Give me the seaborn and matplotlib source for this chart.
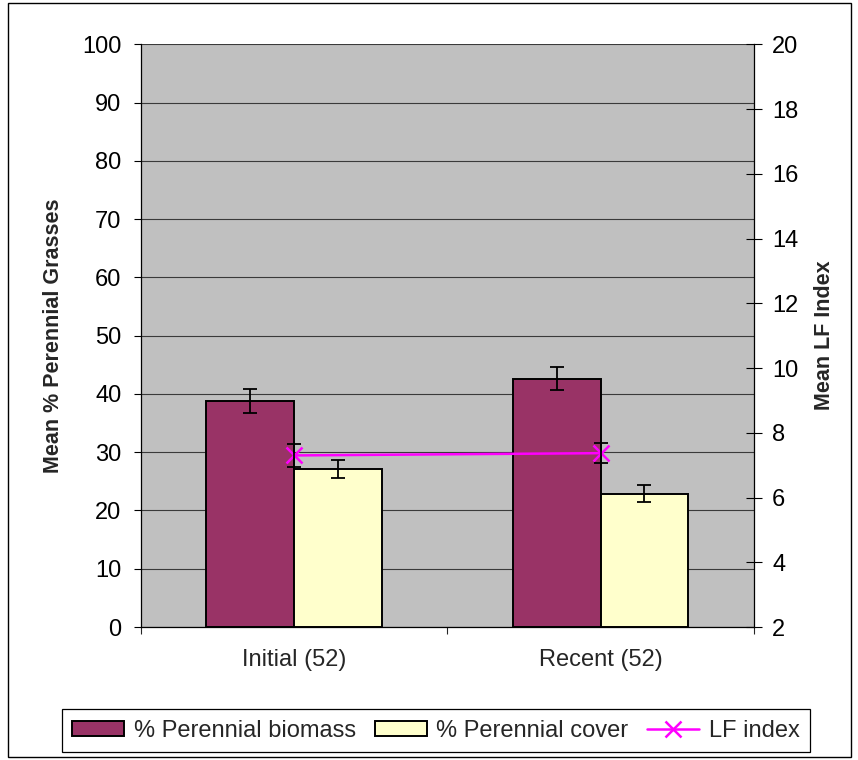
import numpy as np
import pandas as pd
import matplotlib
matplotlib.use("Agg")
import matplotlib.pyplot as plt
from matplotlib.patches import Patch, Rectangle
from matplotlib.lines import Line2D
import seaborn as sns

# values
periods = ["Initial (52)", "Recent (52)"]
series = ["% Perennial biomass", "% Perennial cover"]
biomass = [38.8, 42.6]
biomass_err = [2.05, 2.0]
cover = [27.1, 22.9]
cover_err = [1.55, 1.4]
lf_index = [7.30, 7.37]
lf_err = [0.35, 0.31]
lf_label = "LF index"

bar_colors = ["#993366", "#FFFFCC"]
lf_color = "#FF00FF"

sns.set_theme(style="white")
plt.rcParams["font.family"] = ["Liberation Sans", "DejaVu Sans"]

df = pd.DataFrame({
    "period": periods * 2,
    "series": [series[0]] * 2 + [series[1]] * 2,
    "value": biomass + cover,
})
errs = [biomass_err, cover_err]

fig = plt.figure(figsize=(8.58, 7.6), dpi=100)
ax = fig.add_axes([140.7 / 858, 1 - 627 / 760, 613.3 / 858, (627 - 44.3) / 760])
ax.set_facecolor("#C0C0C0")

sns.barplot(data=df, x="period", y="value", hue="series", palette=bar_colors,
            width=0.571, gap=0, edgecolor="black", linewidth=1.4,
            errorbar=None, saturation=1, legend=False, ax=ax)

# error bars on the bars
for cont, e in zip(ax.containers, errs):
    xs = [b.get_x() + b.get_width() / 2 for b in cont]
    hs = [b.get_height() for b in cont]
    ax.errorbar(xs, hs, yerr=e, fmt="none", ecolor="black",
                elinewidth=1.3, capsize=5.3, capthick=1.3, zorder=5)

ax.set_ylim(0, 100)
ax.set_xlim(-0.5, len(periods) - 0.5)
ax.set_yticks(np.arange(0, 101, 10))
ax.yaxis.grid(True, color="#3a3a3a", linewidth=0.8)
ax.set_axisbelow(True)
ax.set_xlabel("")
ax.set_ylabel("Mean % Perennial Grasses", fontsize=15.5, fontweight="bold", labelpad=13)
ax.tick_params(axis="y", left=True, direction="out", length=5, width=0.8,
               labelsize=17, pad=9, colors="black")
ax.set_xticks(np.arange(len(periods)))
ax.set_xticklabels(periods)
ax.tick_params(axis="x", which="major", length=0, labelsize=17, pad=16)
ax.set_xticks(np.arange(len(periods) + 1) - 0.5, minor=True)
ax.tick_params(axis="x", which="minor", bottom=True, direction="out", length=5, width=0.8)
for s in ["top", "right"]:
    ax.spines[s].set_visible(False)
for s in ["left", "bottom"]:
    ax.spines[s].set_color("black")
    ax.spines[s].set_linewidth(0.9)

# LF index on the right axis
ax2 = ax.twinx()
pos = np.arange(len(periods))
ax2.errorbar(pos, lf_index, yerr=lf_err, fmt="none", ecolor="black",
             elinewidth=1.3, capsize=5.3, capthick=1.3, zorder=3)
sns.lineplot(x=pos, y=lf_index, color=lf_color, marker="x", markersize=11,
             markeredgewidth=1.8, markeredgecolor=lf_color, linewidth=1.8, ax=ax2)
ax2.set_ylim(2, 20)
ax2.set_yticks(np.arange(2, 21, 2))
ax2.set_ylabel("Mean LF Index", fontsize=15.5, fontweight="bold", labelpad=11)
ax2.tick_params(axis="y", right=True, direction="inout", length=12, width=0.8,
                labelsize=17, pad=7, colors="black")
for s in ["top", "left", "bottom"]:
    ax2.spines[s].set_visible(False)
ax2.spines["right"].set_color("black")
ax2.spines["right"].set_linewidth(0.9)
ax2.set_xlim(-0.5, len(periods) - 0.5)

handles = [
    Patch(facecolor=bar_colors[0], edgecolor="black", linewidth=1.4),
    Patch(facecolor=bar_colors[1], edgecolor="black", linewidth=1.4),
    Line2D([], [], color=lf_color, marker="x", markersize=11, markeredgewidth=1.8, linewidth=1.8),
]
leg = fig.legend(handles, series + [lf_label], loc="center", bbox_to_anchor=(0.508, 0.0388),
                 ncol=3, fontsize=17, frameon=True, fancybox=False, framealpha=1,
                 edgecolor="black", handlelength=2.2, handleheight=0.6,
                 handletextpad=0.4, columnspacing=0.8, borderpad=0.45)
leg.get_frame().set_linewidth(0.9)

fig.patches.append(Rectangle((8 / 858, 3 / 760), 843 / 858, 754 / 760, transform=fig.transFigure,
                             fill=False, edgecolor="black", linewidth=1))

fig.savefig("out.png", dpi=100)
